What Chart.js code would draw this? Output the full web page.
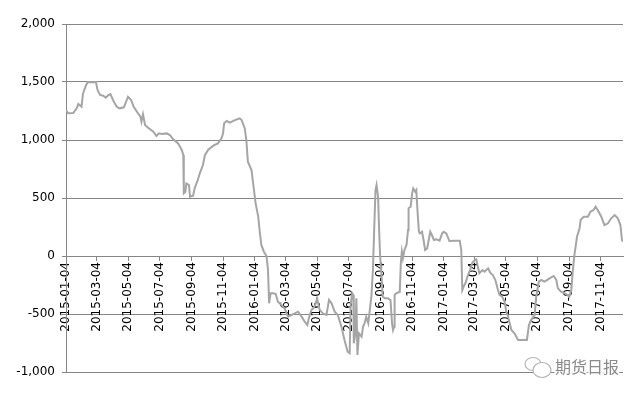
<!DOCTYPE html>
<html>
<head>
<meta charset="utf-8">
<script src="https://cdn.jsdelivr.net/npm/chart.js@4/dist/chart.umd.min.js"></script>
<style>
  html, body { margin: 0; padding: 0; background: #fff; }
  #wrap { width: 640px; height: 396px; }
</style>
</head>
<body>
<div id="wrap"><canvas id="chart" width="640" height="396"></canvas></div>
<script>
// days counted from the first date
const startDate = "2015-01-04";

const days = [
  0, 4, 14, 21, 24, 30, 33, 39, 42, 58, 61, 66, 72, 77, 82, 86, 91, 98, 104, 112,
  120, 126, 131, 138, 144, 146, 149, 153, 159, 169, 175, 180, 185, 195, 201, 207, 217, 224, 227, 228,
  231, 233, 238, 240, 246, 249, 255, 259, 265, 269, 275, 285, 294, 301, 304, 306, 311, 317, 327, 336,
  340, 346, 349, 352, 359, 363, 367, 372, 375, 378, 383, 388, 391, 393, 396, 401, 406, 410, 417, 423,
  430, 436, 443, 449, 456, 462, 467, 470, 475, 481, 486, 491, 497, 504, 509, 514, 520, 526, 533, 539,
  545, 549, 551, 554, 556, 557, 560, 562, 564, 567, 572, 575, 578, 581, 585, 588, 591, 594, 596, 599,
  601, 604, 606, 608, 610, 613, 617, 623, 628, 631, 633, 635, 636, 639, 646, 648, 650, 652, 655, 659,
  662, 663, 667, 670, 672, 676, 678, 680, 683, 685, 689, 692, 695, 699, 702, 705, 708, 712, 717, 723,
  728, 731, 736, 742, 752, 762, 765, 767, 770, 773, 778, 782, 786, 791, 794, 797, 800, 806, 810, 817,
  821, 826, 831, 836, 839, 844, 849, 852, 855, 858, 862, 868, 875, 892, 896, 900, 907, 910, 915, 920,
  926, 933, 939, 944, 949, 952, 958, 968, 974, 978, 981, 984, 989, 994, 996, 1002, 1010, 1015, 1021, 1025,
  1029, 1036, 1042, 1049, 1055, 1062, 1068, 1073, 1076, 1078
];

const spread = [
  1259, 1230, 1232, 1276, 1310, 1287, 1402, 1474, 1497, 1500, 1431, 1388, 1382, 1365, 1388, 1396, 1345, 1287, 1273, 1282,
  1373, 1345, 1287, 1239, 1201, 1158, 1221, 1129, 1106, 1071, 1034, 1057, 1052, 1057, 1043, 1008, 971, 914, 871, 540,
  554, 626, 612, 511, 520, 583, 655, 713, 784, 871, 914, 951, 971, 1014, 1057, 1144, 1164, 1149, 1172, 1187,
  1172, 1100, 1000, 813, 741, 597, 454, 339, 209, 95, 37, 0, -121, -408, -322, -322, -328, -394, -422, -451,
  -523, -509, -494, -480, -523, -566, -595, -537, -465, -437, -365, -465, -494, -509, -379, -408, -480, -509, -609, -724,
  -825, -839, -408, -322, -336, -753, -667, -365, -853, -667, -695, -609, -580, -523, -580, -465, -351, -121, 166, 569,
  612, 511, 224, -6, -121, -351, -365, -365, -379, -580, -638, -609, -336, -322, -308, -63, 37, -20, 52, 95,
  224, 411, 425, 540, 583, 554, 569, 411, 209, 195, 209, 138, 52, 66, 138, 209, 181, 138, 144, 132,
  195, 209, 195, 129, 132, 132, 52, -293, -259, -236, -164, -121, -63, -34, -29, -92, -149, -121, -135, -106,
  -144, -164, -207, -293, -336, -351, -394, -480, -509, -566, -638, -667, -724, -724, -595, -552, -509, -351, -221, -207,
  -221, -201, -184, -172, -207, -279, -308, -328, -351, -293, -121, 9, 166, 238, 310, 339, 339, 382, 397, 425,
  397, 339, 267, 282, 325, 353, 325, 267, 138, 124
];

const tickLabels = [
  "2015-01-04", "2015-03-04", "2015-05-04", "2015-07-04", "2015-09-04", "2015-11-04",
  "2016-01-04", "2016-03-04", "2016-05-04", "2016-07-04", "2016-09-04", "2016-11-04",
  "2017-01-04", "2017-03-04", "2017-05-04", "2017-07-04", "2017-09-04", "2017-11-04"
];

const lastDay = 1078;

const DAY = 86400000;
const dayOf = s => Math.round((Date.parse(s) - Date.parse(startDate)) / DAY);
const tickDays = tickLabels.map(dayOf);

const gridColor = "#868686";
const font = { family: "'DejaVu Sans', sans-serif", size: 12 };

// watermark in the lower right corner
const watermark = {
  id: "watermark",
  afterDraw(chart) {
    const ctx = chart.ctx;
    ctx.save();
    ctx.strokeStyle = "#b4b4b4";
    ctx.lineWidth = 1.2;
    ctx.beginPath();
    ctx.ellipse(533, 364, 8, 6.5, 0, 0, Math.PI * 2);
    ctx.stroke();
    ctx.fillStyle = "#fff";
    ctx.beginPath();
    ctx.ellipse(542, 370, 9, 7.5, 0, 0, Math.PI * 2);
    ctx.fill();
    ctx.stroke();
    ctx.font = "16px 'Noto Sans CJK SC'";
    ctx.textBaseline = "middle";
    ctx.lineWidth = 3;
    ctx.strokeStyle = "#fff";
    ctx.strokeText("期货日报", 555, 367);
    ctx.fillStyle = "#8a8a8a";
    ctx.fillText("期货日报", 555, 367);
    ctx.restore();
  }
};

new Chart(document.getElementById("chart"), {
  type: "line",
  data: {
    datasets: [{
      data: days.map((d, i) => ({ x: d, y: spread[i] })),
      borderColor: "#a5a5a5",
      borderWidth: 2,
      pointRadius: 0,
      tension: 0
    }]
  },
  options: {
    responsive: false,
    animation: false,
    layout: { padding: { left: 0, top: 24, right: 17, bottom: 24 } },
    plugins: { legend: { display: false }, tooltip: { enabled: false } },
    scales: {
      x: {
        type: "linear",
        position: { y: 0 },
        min: 0,
        max: lastDay,
        afterBuildTicks: scale => { scale.ticks = tickDays.map(v => ({ value: v })); },
        ticks: {
          autoSkip: false,
          maxRotation: 90,
          minRotation: 90,
          padding: 2,
          color: "#000",
          font,
          callback: (v, i) => tickLabels[i]
        },
        grid: { drawOnChartArea: false, drawTicks: true, tickLength: 4, color: gridColor },
        border: { color: gridColor, width: 1 }
      },
      y: {
        min: -1000,
        max: 2000,
        afterFit: scale => { scale.width = 66; },
        ticks: {
          stepSize: 500,
          padding: 7,
          color: "#000",
          font,
          callback: v => v.toLocaleString("en-US")
        },
        grid: { color: gridColor, tickLength: 4 },
        border: { color: gridColor, width: 1 }
      }
    }
  },
  plugins: [watermark]
});
</script>
</body>
</html>
